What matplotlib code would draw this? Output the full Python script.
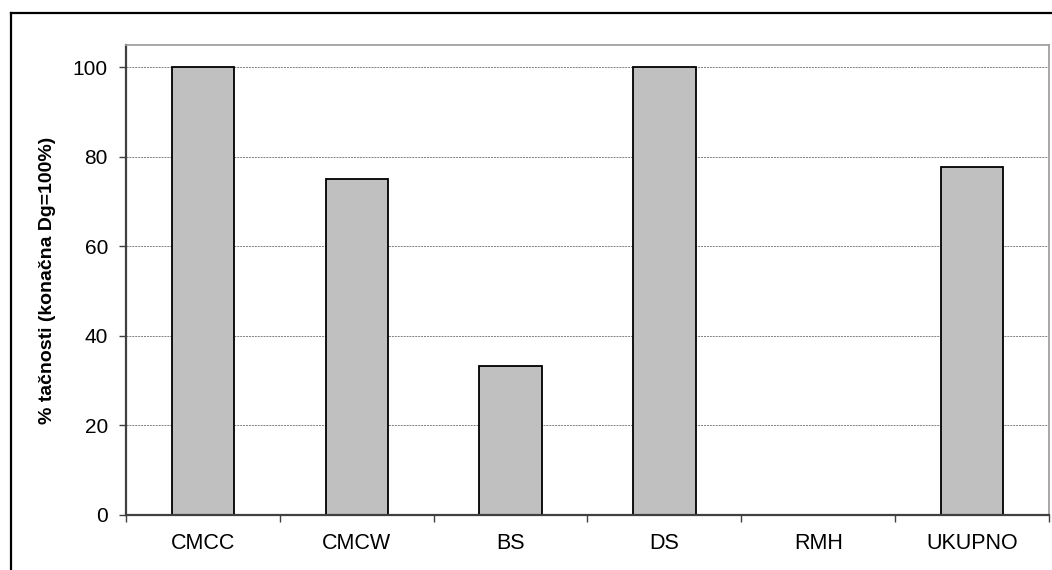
import matplotlib
matplotlib.use("Agg")
import matplotlib.pyplot as plt
from matplotlib.lines import Line2D

categories = ["CMCC", "CMCW", "BS", "DS", "RMH", "UKUPNO"]
accuracy = [100, 75, 33.3, 100, 0, 77.8]
y_ticks = [0, 20, 40, 60, 80, 100]

plt.rcParams["font.family"] = ["Liberation Sans", "DejaVu Sans"]

fig = plt.figure(figsize=(10.52, 5.70), dpi=100)
ax = fig.add_axes([126 / 1052, 55 / 570, (1049 - 126) / 1052, (515 - 45) / 570])

x = list(range(len(categories)))
ax.bar(x, accuracy, width=0.405, color="#c0c0c0", edgecolor="black", linewidth=1.3, zorder=2)

ax.set_xlim(-0.5, len(categories) - 0.5)
ax.set_ylim(0, 105)
ax.set_yticks(y_ticks)
ax.set_yticklabels([str(v) for v in y_ticks], fontsize=15)
ax.yaxis.grid(True, linestyle=(0, (2, 1)), color="#808080", linewidth=0.7, zorder=1)

# category labels centred, tick marks on the category boundaries
ax.set_xticks(x)
ax.set_xticklabels(categories, fontsize=15.5)
ax.tick_params(axis="x", which="major", length=0, pad=13)
ax.set_xticks([i - 0.5 for i in range(len(categories) + 1)], minor=True)
ax.tick_params(axis="x", which="minor", length=5, width=1, color="#404040", direction="out")
ax.tick_params(axis="y", length=5, width=1, color="#404040", direction="out", pad=8)

for side in ("top", "right"):
    ax.spines[side].set_color("#a0a0a0")
    ax.spines[side].set_linewidth(1.3)
for side in ("left", "bottom"):
    ax.spines[side].set_color("#404040")
    ax.spines[side].set_linewidth(1.6)

ax.set_ylabel("% tačnosti (konačna Dg=100%)", fontsize=14, fontweight="bold", labelpad=12)

# chart-area frame
fig.add_artist(Line2D([11 / 1052, 1.0], [1 - 13 / 570, 1 - 13 / 570], color="black", linewidth=1.6, transform=fig.transFigure))
fig.add_artist(Line2D([11 / 1052, 11 / 1052], [0.0, 1 - 13 / 570], color="black", linewidth=1.6, transform=fig.transFigure))

fig.savefig("out.png", dpi=100)
